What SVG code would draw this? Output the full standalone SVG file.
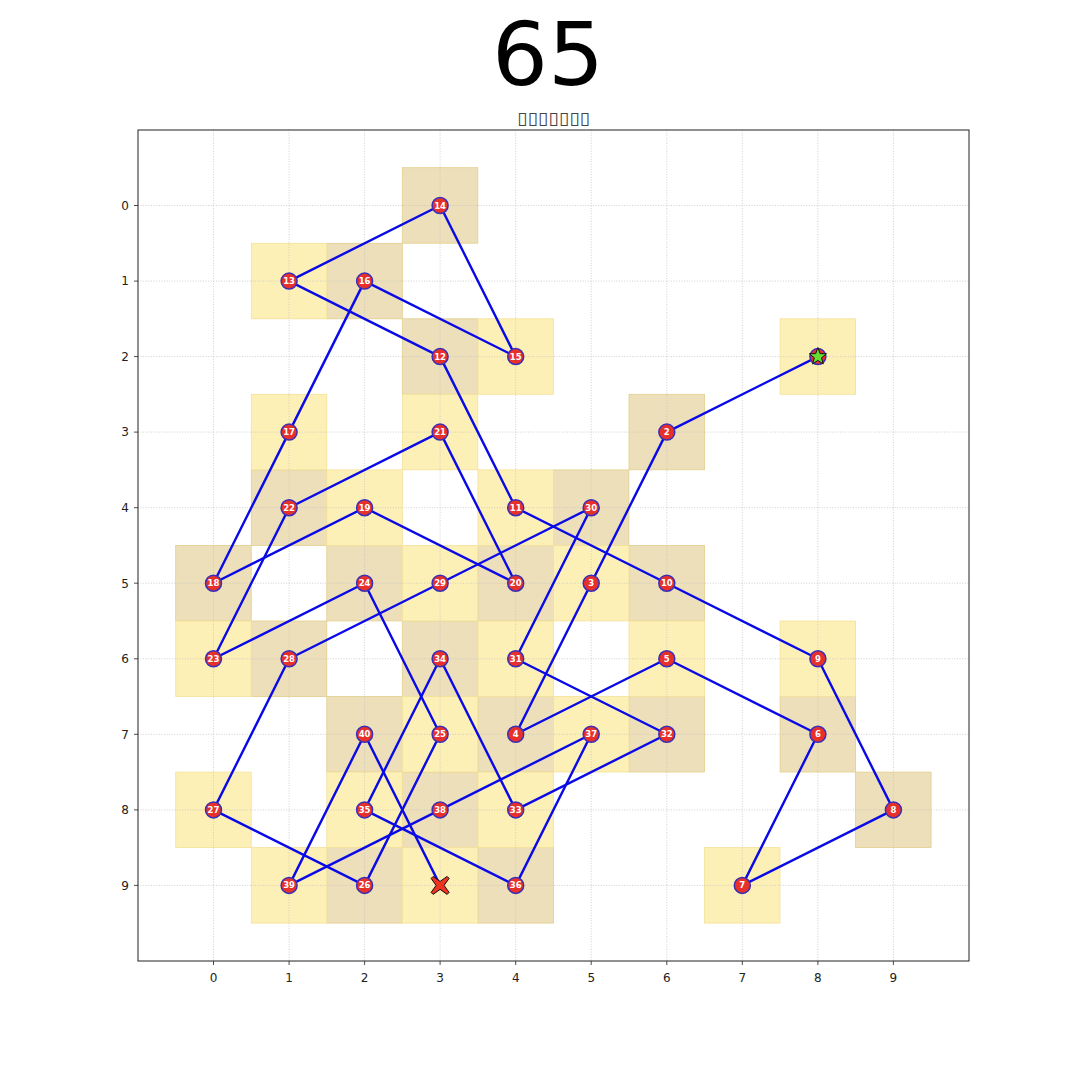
<svg xmlns="http://www.w3.org/2000/svg" width="1080" height="1080" viewBox="0 0 1080 1080">
<style>
.grid line{stroke:#c4c4c4;stroke-width:0.8;stroke-dasharray:1,1.6}
.ce{fill:#eddfb9;stroke:#e2cf8c;stroke-width:0.8}
.co{fill:#fdf0b6;stroke:#f3e29a;stroke-width:0.8}
.conn line{stroke:#0a0ae6;stroke-width:2.4;stroke-linecap:round}
.nd circle{fill:#e8302a;stroke:#3a2fb8;stroke-width:1.5}
.nd text{fill:#ffffff;font-family:"DejaVu Sans",sans-serif;font-weight:bold;font-size:8.5px;text-anchor:middle}
.tk{font-family:"DejaVu Sans",sans-serif;font-size:12px;fill:#222}
.tm{stroke:#222;stroke-width:0.8}
</style>
<rect width="1080" height="1080" fill="#ffffff"/>
<text x="548" y="85" font-family="DejaVu Sans,sans-serif" font-size="88" text-anchor="middle" fill="#000">65</text>
<text x="553.5" y="124" font-family="DejaVu Sans,sans-serif" font-size="17" text-anchor="middle" fill="#444" textLength="73" lengthAdjust="spacingAndGlyphs">▯▯▯▯▯▯▯</text>
<g id="cells">
<rect class="ce" x="402.3" y="167.7" width="75.5" height="75.5"/>
<rect class="ce" x="326.8" y="243.3" width="75.5" height="75.5"/>
<rect class="ce" x="402.3" y="318.8" width="75.5" height="75.5"/>
<rect class="ce" x="629" y="394.3" width="75.5" height="75.5"/>
<rect class="ce" x="251.3" y="469.9" width="75.5" height="75.5"/>
<rect class="ce" x="553.4" y="469.9" width="75.5" height="75.5"/>
<rect class="ce" x="175.7" y="545.4" width="75.5" height="75.5"/>
<rect class="ce" x="326.8" y="545.4" width="75.5" height="75.5"/>
<rect class="ce" x="477.9" y="545.4" width="75.5" height="75.5"/>
<rect class="ce" x="629" y="545.4" width="75.5" height="75.5"/>
<rect class="ce" x="251.3" y="621" width="75.5" height="75.5"/>
<rect class="ce" x="402.3" y="621" width="75.5" height="75.5"/>
<rect class="ce" x="326.8" y="696.5" width="75.5" height="75.5"/>
<rect class="ce" x="477.9" y="696.5" width="75.5" height="75.5"/>
<rect class="ce" x="629" y="696.5" width="75.5" height="75.5"/>
<rect class="ce" x="780.1" y="696.5" width="75.5" height="75.5"/>
<rect class="ce" x="402.3" y="772.1" width="75.5" height="75.5"/>
<rect class="ce" x="855.6" y="772.1" width="75.5" height="75.5"/>
<rect class="ce" x="326.8" y="847.6" width="75.5" height="75.5"/>
<rect class="ce" x="477.9" y="847.6" width="75.5" height="75.5"/>
<rect class="co" x="780.1" y="318.8" width="75.5" height="75.5"/>
<rect class="co" x="251.3" y="243.3" width="75.5" height="75.5"/>
<rect class="co" x="477.9" y="318.8" width="75.5" height="75.5"/>
<rect class="co" x="251.3" y="394.3" width="75.5" height="75.5"/>
<rect class="co" x="402.3" y="394.3" width="75.5" height="75.5"/>
<rect class="co" x="326.8" y="469.9" width="75.5" height="75.5"/>
<rect class="co" x="477.9" y="469.9" width="75.5" height="75.5"/>
<rect class="co" x="553.4" y="545.4" width="75.5" height="75.5"/>
<rect class="co" x="402.3" y="545.4" width="75.5" height="75.5"/>
<rect class="co" x="175.7" y="621" width="75.5" height="75.5"/>
<rect class="co" x="477.9" y="621" width="75.5" height="75.5"/>
<rect class="co" x="629" y="621" width="75.5" height="75.5"/>
<rect class="co" x="780.1" y="621" width="75.5" height="75.5"/>
<rect class="co" x="402.3" y="696.5" width="75.5" height="75.5"/>
<rect class="co" x="553.4" y="696.5" width="75.5" height="75.5"/>
<rect class="co" x="175.7" y="772.1" width="75.5" height="75.5"/>
<rect class="co" x="326.8" y="772.1" width="75.5" height="75.5"/>
<rect class="co" x="477.9" y="772.1" width="75.5" height="75.5"/>
<rect class="co" x="251.3" y="847.6" width="75.5" height="75.5"/>
<rect class="co" x="402.3" y="847.6" width="75.5" height="75.5"/>
<rect class="co" x="704.5" y="847.6" width="75.5" height="75.5"/>
</g>
<g class="grid">
<line x1="213.5" y1="130" x2="213.5" y2="961"/><line x1="289.1" y1="130" x2="289.1" y2="961"/><line x1="364.6" y1="130" x2="364.6" y2="961"/><line x1="440.1" y1="130" x2="440.1" y2="961"/><line x1="515.7" y1="130" x2="515.7" y2="961"/><line x1="591.2" y1="130" x2="591.2" y2="961"/><line x1="666.8" y1="130" x2="666.8" y2="961"/><line x1="742.3" y1="130" x2="742.3" y2="961"/><line x1="817.9" y1="130" x2="817.9" y2="961"/><line x1="893.4" y1="130" x2="893.4" y2="961"/>
<line x1="138" y1="205.5" x2="969" y2="205.5"/><line x1="138" y1="281.1" x2="969" y2="281.1"/><line x1="138" y1="356.6" x2="969" y2="356.6"/><line x1="138" y1="432.1" x2="969" y2="432.1"/><line x1="138" y1="507.7" x2="969" y2="507.7"/><line x1="138" y1="583.2" x2="969" y2="583.2"/><line x1="138" y1="658.8" x2="969" y2="658.8"/><line x1="138" y1="734.3" x2="969" y2="734.3"/><line x1="138" y1="809.9" x2="969" y2="809.9"/><line x1="138" y1="885.4" x2="969" y2="885.4"/>
</g>
<rect x="138" y="130" width="831" height="831" fill="none" stroke="#222" stroke-width="1"/>
<g id="ticks">
<path class="tm" d="M213.5 961v4M289.1 961v4M364.6 961v4M440.1 961v4M515.7 961v4M591.2 961v4M666.8 961v4M742.3 961v4M817.9 961v4M893.4 961v4M138 205.5h-4M138 281.1h-4M138 356.6h-4M138 432.1h-4M138 507.7h-4M138 583.2h-4M138 658.8h-4M138 734.3h-4M138 809.9h-4M138 885.4h-4"/>
<g class="tk" text-anchor="middle">
<text x="213.5" y="982">0</text><text x="289.1" y="982">1</text><text x="364.6" y="982">2</text><text x="440.1" y="982">3</text><text x="515.7" y="982">4</text><text x="591.2" y="982">5</text><text x="666.8" y="982">6</text><text x="742.3" y="982">7</text><text x="817.9" y="982">8</text><text x="893.4" y="982">9</text>
</g>
<g class="tk" text-anchor="end">
<text x="129" y="209.8">0</text><text x="129" y="285.4">1</text><text x="129" y="360.9">2</text><text x="129" y="436.4">3</text><text x="129" y="512">4</text><text x="129" y="587.5">5</text><text x="129" y="663.1">6</text><text x="129" y="738.6">7</text><text x="129" y="814.2">8</text><text x="129" y="889.7">9</text>
</g>
</g>
<g id="connectors" class="conn">
<line x1="817.9" y1="356.6" x2="666.8" y2="432.1"/>
<line x1="666.8" y1="432.1" x2="591.2" y2="583.2"/>
<line x1="591.2" y1="583.2" x2="515.7" y2="734.3"/>
<line x1="515.7" y1="734.3" x2="666.8" y2="658.8"/>
<line x1="666.8" y1="658.8" x2="817.9" y2="734.3"/>
<line x1="817.9" y1="734.3" x2="742.3" y2="885.4"/>
<line x1="742.3" y1="885.4" x2="893.4" y2="809.9"/>
<line x1="893.4" y1="809.9" x2="817.9" y2="658.8"/>
<line x1="817.9" y1="658.8" x2="666.8" y2="583.2"/>
<line x1="666.8" y1="583.2" x2="515.7" y2="507.7"/>
<line x1="515.7" y1="507.7" x2="440.1" y2="356.6"/>
<line x1="440.1" y1="356.6" x2="289.1" y2="281.1"/>
<line x1="289.1" y1="281.1" x2="440.1" y2="205.5"/>
<line x1="440.1" y1="205.5" x2="515.7" y2="356.6"/>
<line x1="515.7" y1="356.6" x2="364.6" y2="281.1"/>
<line x1="364.6" y1="281.1" x2="289.1" y2="432.1"/>
<line x1="289.1" y1="432.1" x2="213.5" y2="583.2"/>
<line x1="213.5" y1="583.2" x2="364.6" y2="507.7"/>
<line x1="364.6" y1="507.7" x2="515.7" y2="583.2"/>
<line x1="515.7" y1="583.2" x2="440.1" y2="432.1"/>
<line x1="440.1" y1="432.1" x2="289.1" y2="507.7"/>
<line x1="289.1" y1="507.7" x2="213.5" y2="658.8"/>
<line x1="213.5" y1="658.8" x2="364.6" y2="583.2"/>
<line x1="364.6" y1="583.2" x2="440.1" y2="734.3"/>
<line x1="440.1" y1="734.3" x2="364.6" y2="885.4"/>
<line x1="364.6" y1="885.4" x2="213.5" y2="809.9"/>
<line x1="213.5" y1="809.9" x2="289.1" y2="658.8"/>
<line x1="289.1" y1="658.8" x2="440.1" y2="583.2"/>
<line x1="440.1" y1="583.2" x2="591.2" y2="507.7"/>
<line x1="591.2" y1="507.7" x2="515.7" y2="658.8"/>
<line x1="515.7" y1="658.8" x2="666.8" y2="734.3"/>
<line x1="666.8" y1="734.3" x2="515.7" y2="809.9"/>
<line x1="515.7" y1="809.9" x2="440.1" y2="658.8"/>
<line x1="440.1" y1="658.8" x2="364.6" y2="809.9"/>
<line x1="364.6" y1="809.9" x2="515.7" y2="885.4"/>
<line x1="515.7" y1="885.4" x2="591.2" y2="734.3"/>
<line x1="591.2" y1="734.3" x2="440.1" y2="809.9"/>
<line x1="440.1" y1="809.9" x2="289.1" y2="885.4"/>
<line x1="289.1" y1="885.4" x2="364.6" y2="734.3"/>
<line x1="364.6" y1="734.3" x2="440.1" y2="885.4"/>
</g>
<g id="nodes" class="nd">
<g id="start"><circle cx="817.9" cy="356.6" r="8"/><polygon points="817.9,347.6 820.1,353.6 826.5,353.8 821.5,357.8 823.2,364 817.9,360.4 812.6,364 814.3,357.8 809.3,353.8 815.7,353.6" fill="#66dd33" stroke="#111" stroke-width="1"/></g>
<g id="n2"><circle cx="666.8" cy="432.1" r="8"/><text x="666.8" y="435.1">2</text></g>
<g id="n3"><circle cx="591.2" cy="583.2" r="8"/><text x="591.2" y="586.2">3</text></g>
<g id="n4"><circle cx="515.7" cy="734.3" r="8"/><text x="515.7" y="737.3">4</text></g>
<g id="n5"><circle cx="666.8" cy="658.8" r="8"/><text x="666.8" y="661.8">5</text></g>
<g id="n6"><circle cx="817.9" cy="734.3" r="8"/><text x="817.9" y="737.3">6</text></g>
<g id="n7"><circle cx="742.3" cy="885.4" r="8"/><text x="742.3" y="888.4">7</text></g>
<g id="n8"><circle cx="893.4" cy="809.9" r="8"/><text x="893.4" y="812.9">8</text></g>
<g id="n9"><circle cx="817.9" cy="658.8" r="8"/><text x="817.9" y="661.8">9</text></g>
<g id="n10"><circle cx="666.8" cy="583.2" r="8"/><text x="666.8" y="586.2">10</text></g>
<g id="n11"><circle cx="515.7" cy="507.7" r="8"/><text x="515.7" y="510.7">11</text></g>
<g id="n12"><circle cx="440.1" cy="356.6" r="8"/><text x="440.1" y="359.6">12</text></g>
<g id="n13"><circle cx="289.1" cy="281.1" r="8"/><text x="289.1" y="284.1">13</text></g>
<g id="n14"><circle cx="440.1" cy="205.5" r="8"/><text x="440.1" y="208.5">14</text></g>
<g id="n15"><circle cx="515.7" cy="356.6" r="8"/><text x="515.7" y="359.6">15</text></g>
<g id="n16"><circle cx="364.6" cy="281.1" r="8"/><text x="364.6" y="284.1">16</text></g>
<g id="n17"><circle cx="289.1" cy="432.1" r="8"/><text x="289.1" y="435.1">17</text></g>
<g id="n18"><circle cx="213.5" cy="583.2" r="8"/><text x="213.5" y="586.2">18</text></g>
<g id="n19"><circle cx="364.6" cy="507.7" r="8"/><text x="364.6" y="510.7">19</text></g>
<g id="n20"><circle cx="515.7" cy="583.2" r="8"/><text x="515.7" y="586.2">20</text></g>
<g id="n21"><circle cx="440.1" cy="432.1" r="8"/><text x="440.1" y="435.1">21</text></g>
<g id="n22"><circle cx="289.1" cy="507.7" r="8"/><text x="289.1" y="510.7">22</text></g>
<g id="n23"><circle cx="213.5" cy="658.8" r="8"/><text x="213.5" y="661.8">23</text></g>
<g id="n24"><circle cx="364.6" cy="583.2" r="8"/><text x="364.6" y="586.2">24</text></g>
<g id="n25"><circle cx="440.1" cy="734.3" r="8"/><text x="440.1" y="737.3">25</text></g>
<g id="n26"><circle cx="364.6" cy="885.4" r="8"/><text x="364.6" y="888.4">26</text></g>
<g id="n27"><circle cx="213.5" cy="809.9" r="8"/><text x="213.5" y="812.9">27</text></g>
<g id="n28"><circle cx="289.1" cy="658.8" r="8"/><text x="289.1" y="661.8">28</text></g>
<g id="n29"><circle cx="440.1" cy="583.2" r="8"/><text x="440.1" y="586.2">29</text></g>
<g id="n30"><circle cx="591.2" cy="507.7" r="8"/><text x="591.2" y="510.7">30</text></g>
<g id="n31"><circle cx="515.7" cy="658.8" r="8"/><text x="515.7" y="661.8">31</text></g>
<g id="n32"><circle cx="666.8" cy="734.3" r="8"/><text x="666.8" y="737.3">32</text></g>
<g id="n33"><circle cx="515.7" cy="809.9" r="8"/><text x="515.7" y="812.9">33</text></g>
<g id="n34"><circle cx="440.1" cy="658.8" r="8"/><text x="440.1" y="661.8">34</text></g>
<g id="n35"><circle cx="364.6" cy="809.9" r="8"/><text x="364.6" y="812.9">35</text></g>
<g id="n36"><circle cx="515.7" cy="885.4" r="8"/><text x="515.7" y="888.4">36</text></g>
<g id="n37"><circle cx="591.2" cy="734.3" r="8"/><text x="591.2" y="737.3">37</text></g>
<g id="n38"><circle cx="440.1" cy="809.9" r="8"/><text x="440.1" y="812.9">38</text></g>
<g id="n39"><circle cx="289.1" cy="885.4" r="8"/><text x="289.1" y="888.4">39</text></g>
<g id="n40"><circle cx="364.6" cy="734.3" r="8"/><text x="364.6" y="737.3">40</text></g>
<g id="end"><path d="M433.1 876.4 L440.1 881.4 L447.1 876.4 L449.1 878.4 L444.1 885.4 L449.1 892.4 L447.1 894.4 L440.1 889.4 L433.1 894.4 L431.1 892.4 L436.1 885.4 L431.1 878.4 Z" fill="#ee3322" stroke="#111" stroke-width="1"/></g>
</g>
</svg>
